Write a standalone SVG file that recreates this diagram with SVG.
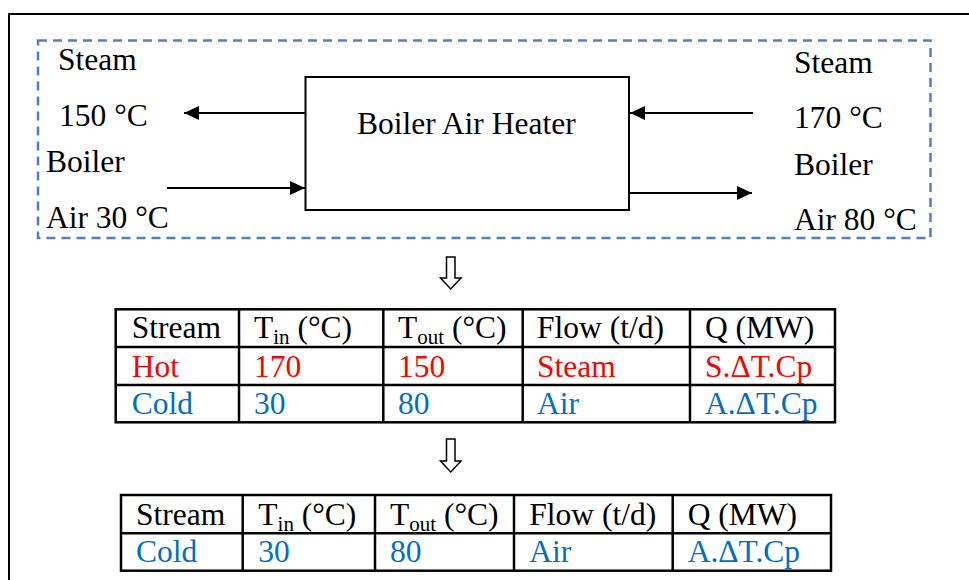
<svg xmlns="http://www.w3.org/2000/svg" width="969" height="580" viewBox="0 0 969 580">
<style>
text{font-family:"Liberation Serif","Times New Roman",serif;font-size:31.5px;fill:#000}
.red{fill:#FF0000}
.blue{fill:#0070C0}
.sub{font-size:21px}
.ln{stroke:#000;stroke-width:2;fill:none}
.tb{stroke:#000;stroke-width:2.5;fill:none}
.da{fill:#fff;stroke:#000;stroke-width:1.5}
</style>
<defs>
<marker id="ah" markerWidth="16" markerHeight="14" refX="15" refY="7" orient="auto" markerUnits="userSpaceOnUse">
<path d="M0,0 L15,7 L0,14 Z" fill="#000"/>
</marker>
</defs>
<rect width="969" height="580" fill="#fff"/>
<path d="M9,580 V14 H969" stroke="#000" stroke-width="2" fill="none"/>
<rect x="38" y="40.5" width="892.5" height="197.5" fill="none" stroke="#4F81BD" stroke-width="2.5" stroke-dasharray="9,6"/>

<g id="heater">
<rect x="305.5" y="77" width="323.5" height="133" class="ln"/>
<text x="357" y="134">Boiler Air Heater</text>
</g>

<g id="left-labels">
<text x="58" y="70">Steam</text>
<text x="59" y="126">150 °C</text>
<text x="46" y="172">Boiler</text>
<text x="46" y="228">Air 30 °C</text>
</g>
<g id="right-labels">
<text x="794" y="73">Steam</text>
<text x="794" y="128">170 °C</text>
<text x="794" y="175">Boiler</text>
<text x="794" y="230">Air 80 °C</text>
</g>

<g id="connectors">
<line x1="305" y1="113" x2="184" y2="113" class="ln" marker-end="url(#ah)"/>
<line x1="167" y1="188" x2="305" y2="188" class="ln" marker-end="url(#ah)"/>
<line x1="753" y1="113" x2="630" y2="113" class="ln" marker-end="url(#ah)"/>
<line x1="629" y1="193" x2="752" y2="193" class="ln" marker-end="url(#ah)"/>
<path class="da" d="M446.5,257 H455 V278 H461 L450.7,289 L440.5,278 H446.5 Z"/>
<path class="da" d="M446.5,439 H455 V461 H461 L450.7,472 L440.5,461 H446.5 Z"/>
</g>

<g id="table1">
<rect x="115.7" y="309.3" width="719.3" height="113" class="tb"/>
<line x1="115.7" y1="347" x2="835" y2="347" class="tb"/>
<line x1="115.7" y1="385" x2="835" y2="385" class="tb"/>
<line x1="239" y1="309.3" x2="239" y2="422.3" class="tb"/>
<line x1="383.3" y1="309.3" x2="383.3" y2="422.3" class="tb"/>
<line x1="522.7" y1="309.3" x2="522.7" y2="422.3" class="tb"/>
<line x1="690" y1="309.3" x2="690" y2="422.3" class="tb"/>
<text x="131.7" y="338">Stream</text>
<text x="254" y="338">T<tspan class="sub" dy="6">in</tspan><tspan dy="-6"> (°C)</tspan></text>
<text x="398" y="338">T<tspan class="sub" dy="6">out</tspan><tspan dy="-6"> (°C)</tspan></text>
<text x="537" y="338">Flow (t/d)</text>
<text x="705" y="338">Q (MW)</text>
<text x="131.7" y="376.5" class="red">Hot</text>
<text x="254" y="376.5" class="red">170</text>
<text x="398" y="376.5" class="red">150</text>
<text x="537" y="376.5" class="red">Steam</text>
<text x="705" y="376.5" class="red">S.ΔT.Cp</text>
<text x="131.7" y="414" class="blue">Cold</text>
<text x="254" y="414" class="blue">30</text>
<text x="398" y="414" class="blue">80</text>
<text x="537" y="414" class="blue">Air</text>
<text x="705" y="414" class="blue">A.ΔT.Cp</text>
</g>

<g id="table2">
<rect x="121" y="495" width="710" height="75.7" class="tb"/>
<line x1="121" y1="533.3" x2="831" y2="533.3" class="tb"/>
<line x1="242.7" y1="495" x2="242.7" y2="570.7" class="tb"/>
<line x1="375" y1="495" x2="375" y2="570.7" class="tb"/>
<line x1="514" y1="495" x2="514" y2="570.7" class="tb"/>
<line x1="672.7" y1="495" x2="672.7" y2="570.7" class="tb"/>
<text x="136" y="525">Stream</text>
<text x="258.3" y="525">T<tspan class="sub" dy="6">in</tspan><tspan dy="-6"> (°C)</tspan></text>
<text x="390" y="525">T<tspan class="sub" dy="6">out</tspan><tspan dy="-6"> (°C)</tspan></text>
<text x="529.3" y="525">Flow (t/d)</text>
<text x="687.7" y="525">Q (MW)</text>
<text x="136" y="562.3" class="blue">Cold</text>
<text x="258.3" y="562.3" class="blue">30</text>
<text x="390" y="562.3" class="blue">80</text>
<text x="529.3" y="562.3" class="blue">Air</text>
<text x="687.7" y="562.3" class="blue">A.ΔT.Cp</text>
</g>
</svg>
